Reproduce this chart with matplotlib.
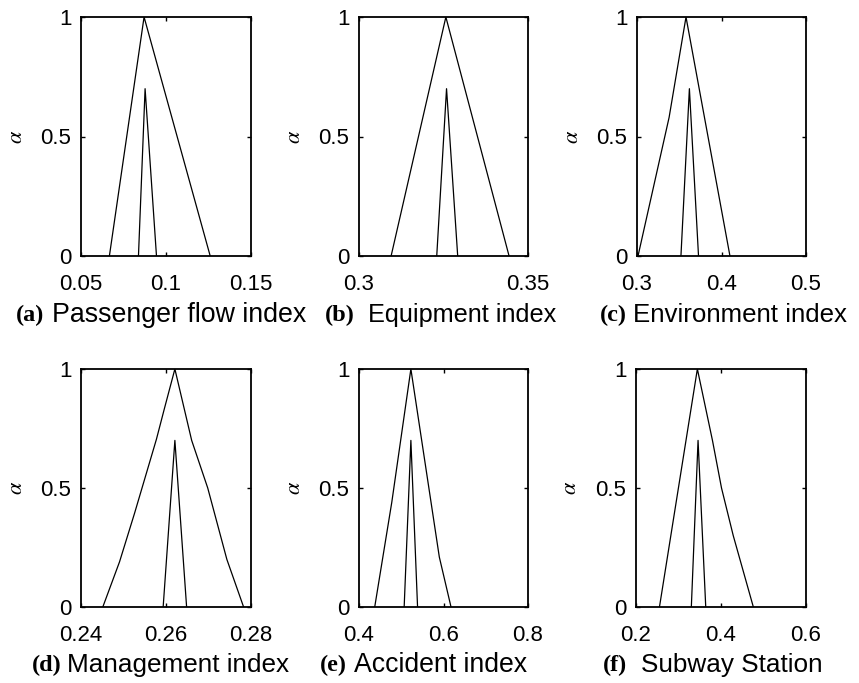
import matplotlib
matplotlib.use('Agg')
import matplotlib.pyplot as plt

plt.rcParams['font.family'] = 'Liberation Sans'
plt.rcParams['mathtext.fontset'] = 'stix'

# outer fuzzy number (alpha 0..1), inner one (alpha 0..0.7)
a_outer_x = [0.0667, 0.0871, 0.126]
a_outer_y = [0, 1, 0]
a_inner_x = [0.0838, 0.0877, 0.0944]

b_outer_x = [0.3095, 0.3257, 0.3444]
b_outer_y = [0, 1, 0]
b_inner_x = [0.3230, 0.3259, 0.3292]

c_outer_x = [0.3012, 0.338, 0.358, 0.41]
c_outer_y = [0, 0.58, 1, 0]
c_inner_x = [0.352, 0.362, 0.3728]

d_outer_x = [0.24513, 0.24907, 0.25262, 0.25775, 0.25957, 0.26209,
             0.26604, 0.26982, 0.27432, 0.27826]
d_outer_y = [0, 0.19, 0.395, 0.705, 0.83, 1, 0.70, 0.5, 0.2, 0]
d_inner_x = [0.25933, 0.26209, 0.26485]

e_outer_x = [0.4372, 0.4776, 0.5228, 0.5901, 0.6178]
e_outer_y = [0, 0.44, 1, 0.21, 0]
e_inner_x = [0.5069, 0.5228, 0.5386]

f_outer_x = [0.2552, 0.3444, 0.3799, 0.4012, 0.4288, 0.4761]
f_outer_y = [0, 1, 0.7, 0.5, 0.3, 0]
f_inner_x = [0.3302, 0.3460, 0.3641]

inner_y = [0, 0.7, 0]

xlims = [(0.05, 0.15), (0.3, 0.35), (0.3, 0.5), (0.24, 0.28), (0.4, 0.8), (0.2, 0.6)]
xticks = [[0.05, 0.1, 0.15], [0.3, 0.35], [0.3, 0.4, 0.5],
          [0.24, 0.26, 0.28], [0.4, 0.6, 0.8], [0.2, 0.4, 0.6]]
xticklabels = [['0.05', '0.1', '0.15'], ['0.3', '0.35'], ['0.3', '0.4', '0.5'],
               ['0.24', '0.26', '0.28'], ['0.4', '0.6', '0.8'], ['0.2', '0.4', '0.6']]
tags = ['(a)', '(b)', '(c)', '(d)', '(e)', '(f)']
names = ['Passenger flow index', 'Equipment index', 'Environment index',
         'Management index', 'Accident index', 'Subway Station']

outers = [(a_outer_x, a_outer_y), (b_outer_x, b_outer_y), (c_outer_x, c_outer_y),
          (d_outer_x, d_outer_y), (e_outer_x, e_outer_y), (f_outer_x, f_outer_y)]
inners = [a_inner_x, b_inner_x, c_inner_x, d_inner_x, e_inner_x, f_inner_x]

W, H = 859, 683
fig = plt.figure(figsize=(W / 100, H / 100), dpi=100)

# axes boxes in pixels: left, top, right, bottom
boxes = [(81, 17, 251, 256), (359, 17, 528, 256), (637, 17, 806, 256),
         (81, 369, 251, 607), (359, 369, 528, 607), (636, 369, 806, 607)]
tag_x = [16, 325, 600, 32, 320, 603]
name_x = [52, 368, 633, 67, 354, 641]
name_size = [19.3, 18.2, 18.6, 18.8, 19.2, 18.8]
cap_y = [315, 315, 315, 665, 665, 665]

for i in range(6):
    l, t, r, b = boxes[i]
    ax = fig.add_axes([l / W, 1 - b / H, (r - l) / W, (b - t) / H])
    ax.plot(outers[i][0], outers[i][1], color='black', lw=0.9)
    ax.plot(inners[i], inner_y, color='black', lw=0.9)
    ax.set_xlim(xlims[i])
    ax.set_ylim(0, 1)
    ax.set_xticks(xticks[i])
    ax.set_xticklabels(xticklabels[i])
    ax.set_yticks([0, 0.5, 1])
    ax.set_yticklabels(['0', '0.5', '1'])
    ax.tick_params(direction='in', top=True, right=True, length=3, width=1,
                   labelsize=16)
    ax.tick_params(axis='x', pad=13)
    ax.tick_params(axis='y', pad=7)
    for s in ax.spines.values():
        s.set_linewidth(1.3)
    ax.text(-65 / (r - l), 0.5, r'$\alpha$', transform=ax.transAxes,
            fontsize=16, rotation=90, ha='center', va='center')

    fig.text(tag_x[i] / W, 1 - cap_y[i] / H, tags[i], fontsize=17.5,
             family='Liberation Serif', weight='bold', va='center', ha='left')
    fig.text(name_x[i] / W, 1 - cap_y[i] / H, names[i], fontsize=name_size[i],
             va='center', ha='left')

fig.savefig('out.png', dpi=100)
